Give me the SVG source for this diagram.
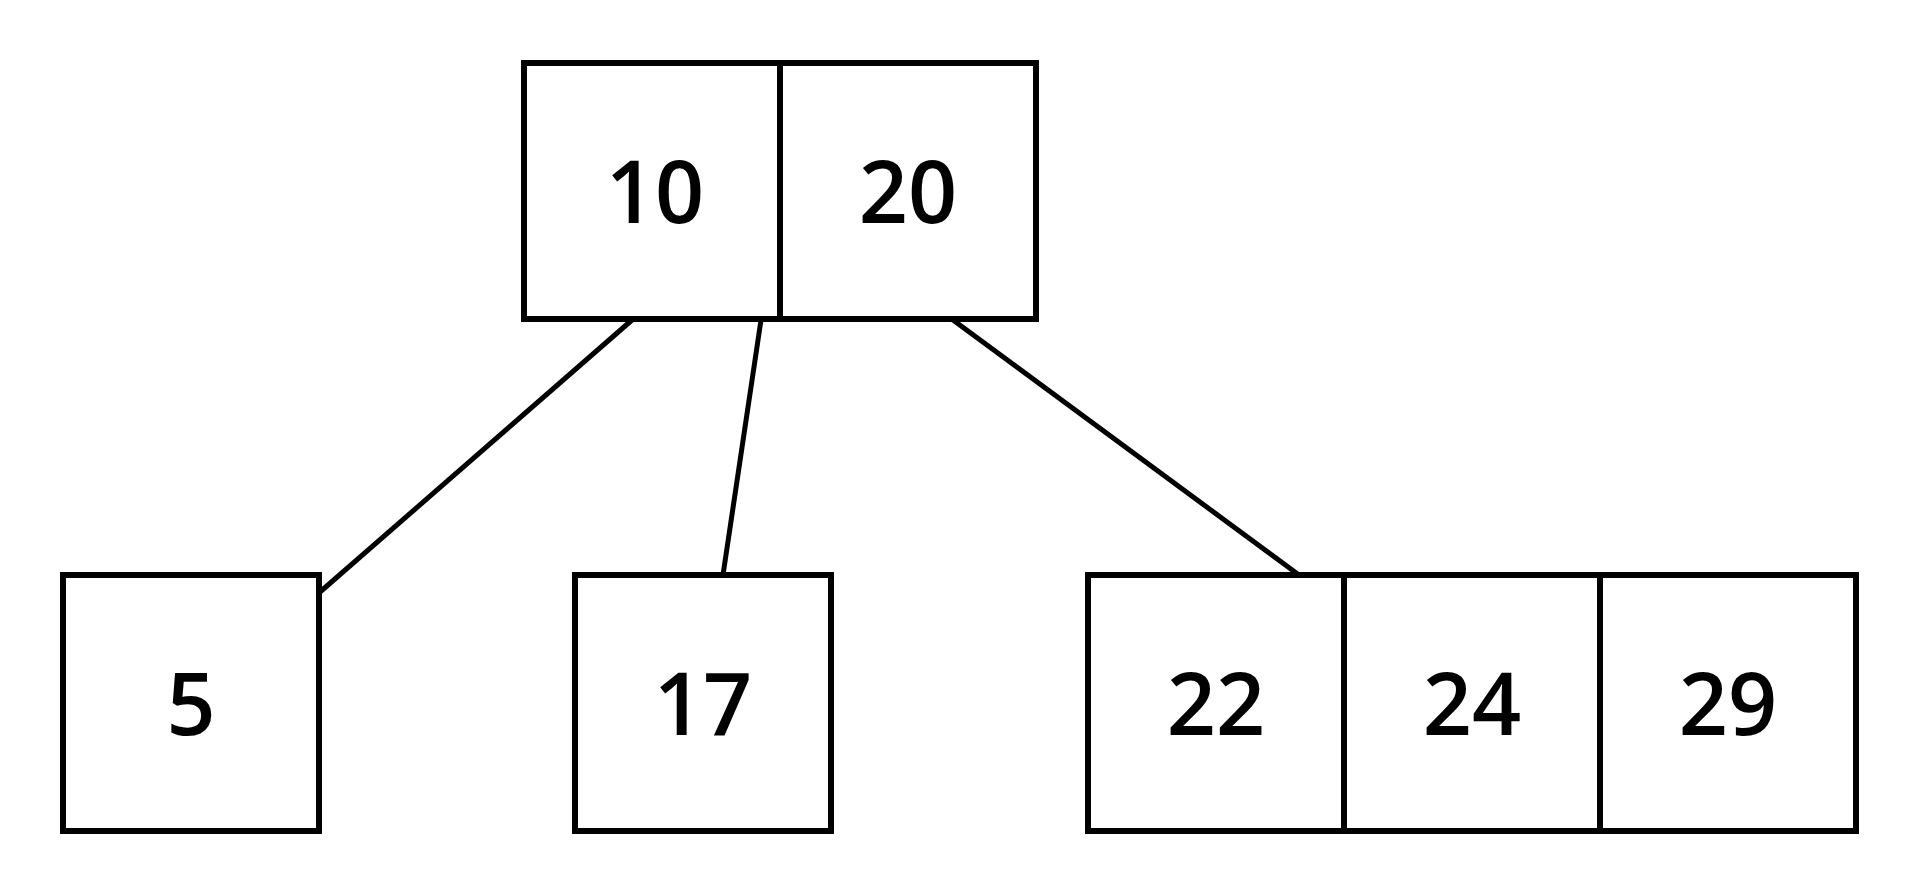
<svg xmlns="http://www.w3.org/2000/svg" width="1920" height="895" viewBox="0 0 1920 895">
<style>
.cell{fill:#fff;stroke:#000;stroke-width:6}
.lbl{font-family:"Open Sans","Noto Sans",sans-serif;font-size:86px;font-weight:600;fill:#000;text-anchor:middle}
.edge{stroke:#000;stroke-width:5;fill:none}
</style>
<rect width="1920" height="895" fill="#fff"/>
<g id="connectors">
<line class="edge" x1="632" y1="320" x2="320" y2="592"/>
<line class="edge" x1="761" y1="320" x2="723" y2="575"/>
<line class="edge" x1="953" y1="320" x2="1299" y2="575"/>
</g>
<g id="node-root">
<rect class="cell" x="524" y="63" width="256" height="256"/>
<rect class="cell" x="780" y="63" width="256" height="256"/>
<text class="lbl" x="655" y="223">10</text>
<text class="lbl" x="908" y="223">20</text>
</g>
<g id="node-5">
<rect class="cell" x="63" y="575" width="256" height="256"/>
<text class="lbl" x="191" y="735">5</text>
</g>
<g id="node-17">
<rect class="cell" x="575" y="575" width="256" height="256"/>
<text class="lbl" x="703" y="735">17</text>
</g>
<g id="node-22-24-29">
<rect class="cell" x="1088" y="575" width="256" height="256"/>
<rect class="cell" x="1344" y="575" width="256" height="256"/>
<rect class="cell" x="1600" y="575" width="256" height="256"/>
<text class="lbl" x="1216" y="735">22</text>
<text class="lbl" x="1472" y="735">24</text>
<text class="lbl" x="1728" y="735">29</text>
</g>
</svg>
